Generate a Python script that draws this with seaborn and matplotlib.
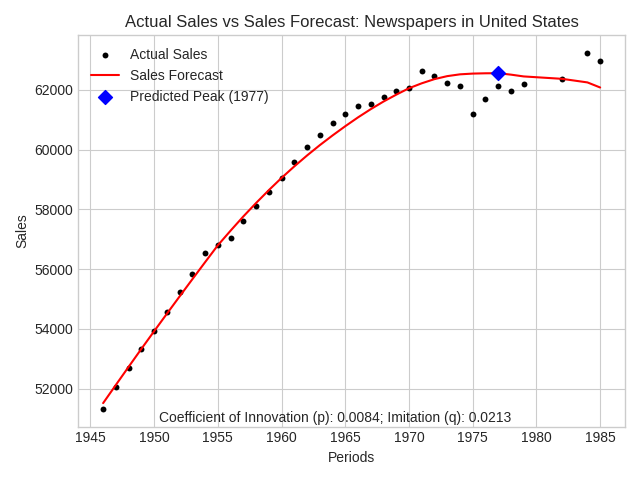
import matplotlib
matplotlib.use("Agg")
import matplotlib.pyplot as plt
import seaborn as sns
import pandas as pd

# actual sales (no data for 1980, 1981, 1983)
years = [1946, 1947, 1948, 1949, 1950, 1951, 1952, 1953, 1954, 1955,
         1956, 1957, 1958, 1959, 1960, 1961, 1962, 1963, 1964, 1965,
         1966, 1967, 1968, 1969, 1970, 1971, 1972, 1973, 1974, 1975,
         1976, 1977, 1978, 1979, 1982, 1984, 1985]
actual_sales = [51330, 52070, 52700, 53340, 53940, 54575, 55240, 55840, 56540, 56800,
                57040, 57610, 58110, 58580, 59050, 59580, 60090, 60500, 60900, 61200,
                61470, 61540, 61770, 61970, 62070, 62640, 62470, 62230, 62130, 61200,
                61690, 62130, 61960, 62200, 62360, 63230, 62960]
forecast = [51520, 52130, 52735, 53335, 53925, 54510, 55090, 55665, 56235, 56800,
            57290, 57765, 58215, 58645, 59055, 59440, 59805, 60150, 60475, 60785,
            61080, 61355, 61610, 61840, 62055, 62220, 62360, 62460, 62520, 62545,
            62555, 62558, 62510, 62450, 62370, 62250, 62080]

peak_year = 1977
p_coef = 0.0084
q_coef = 0.0213

df = pd.DataFrame({"Periods": years, "Sales": actual_sales, "Forecast": forecast})
peak_val = df.loc[df["Periods"] == peak_year, "Forecast"].iloc[0]

plt.style.use("seaborn-v0_8-whitegrid")
fig, ax = plt.subplots(figsize=(6.4, 4.8), dpi=100)

sns.scatterplot(data=df, x="Periods", y="Sales", color="black", s=18,
                edgecolor="black", linewidth=0, label="Actual Sales", ax=ax, zorder=2)
sns.lineplot(data=df, x="Periods", y="Forecast", color="red", linewidth=1.5,
             label="Sales Forecast", ax=ax, zorder=3)
ax.scatter([peak_year], [peak_val], color="blue", marker="D", s=50,
           label=f"Predicted Peak ({peak_year})", zorder=4)

ax.set_title("Actual Sales vs Sales Forecast: Newspapers in United States")
ax.set_xlabel("Periods")
ax.set_ylabel("Sales")
ax.legend(loc="upper left")
ax.text(0.47, 0.005, f"Coefficient of Innovation (p): {p_coef}; Imitation (q): {q_coef}",
        transform=ax.transAxes, ha="center", va="bottom", fontsize=10)

plt.tight_layout()
plt.savefig("out.png", dpi=100)
